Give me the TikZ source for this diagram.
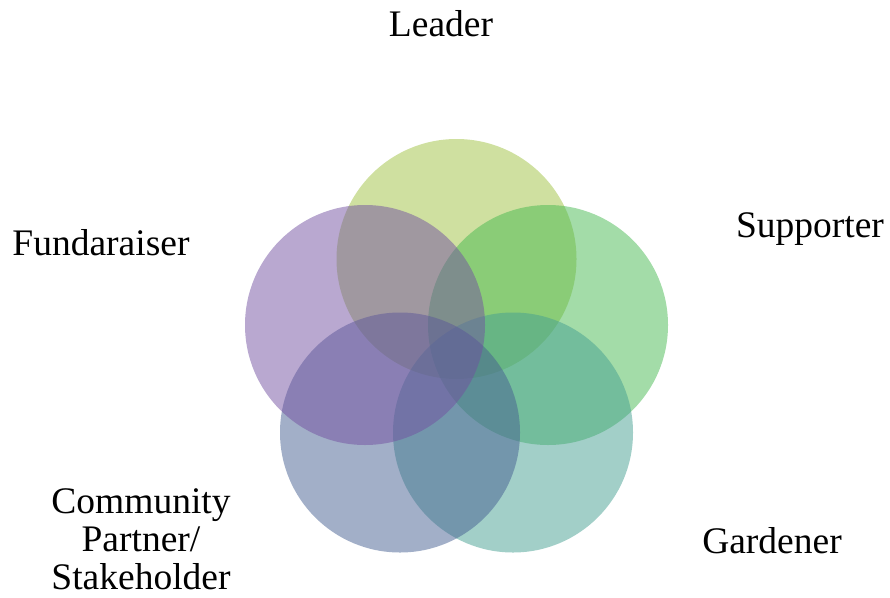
\documentclass[tikz,border=0pt]{standalone}
\usepackage{fontspec}
\setmainfont{Liberation Serif}
\definecolor{leadercol}{RGB}{159,193,65}
\definecolor{supportcol}{RGB}{71,185,81}
\definecolor{gardencol}{RGB}{69,159,145}
\definecolor{partnercol}{RGB}{69,95,145}
\definecolor{fundcol}{RGB}{115,81,161}
\tikzset{
	ring/.style={circle,draw=none,minimum size=240pt,inner sep=0pt,fill opacity=0.5},
	role/.style={font=\fontsize{37.5}{38}\selectfont,anchor=base,align=center}
}
\begin{document}
\begin{tikzpicture}[x=1pt,y=-1pt]
	\useasboundingbox (0,0) rectangle (890,597);
	% five overlapping circles, clockwise from the top
	\node[ring,fill=leadercol] (leader) at (456.5,259) {};
	\node[ring,fill=supportcol] (supporter) at (548,325) {};
	\node[ring,fill=gardencol] (gardener) at (513,432.5) {};
	\node[ring,fill=partnercol] (partner) at (400,432.5) {};
	\node[ring,fill=fundcol] (fund) at (365,325) {};
	% role names
	\node[role] (leaderlbl) at (441,36) {Leader};
	\node[role] (supporterlbl) at (810,237) {Supporter};
	\node[role] (gardenerlbl) at (772,553) {Gardener};
	\node[role] (fundlbl) at (101,255) {Fundaraiser};
	\node[role,anchor=north] (partnerlbl) at (141,485) {Community\\Partner/\\Stakeholder};
\end{tikzpicture}
\end{document}
